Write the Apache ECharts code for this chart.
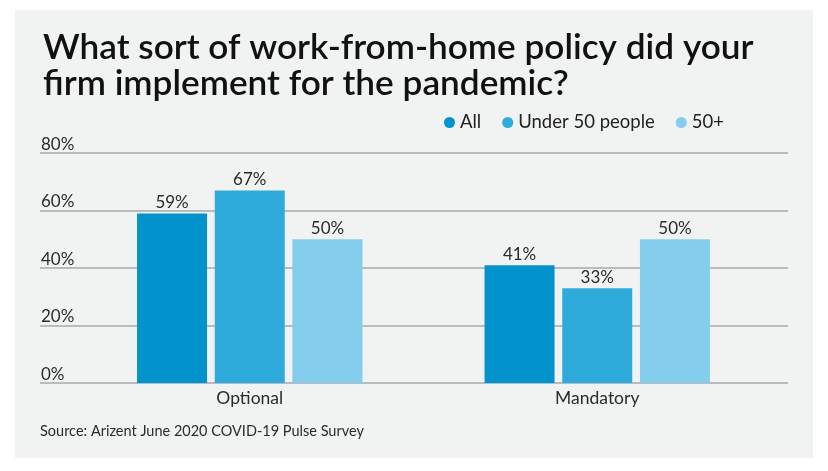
<!DOCTYPE html>
<html>
<head>
<meta charset="utf-8">
<script src="https://cdn.jsdelivr.net/npm/echarts@6/dist/echarts.min.js"></script>
<style>
html,body{margin:0;padding:0;background:#ffffff;}
#chart{width:828px;height:471px;}
</style>
</head>
<body>
<div id="chart"></div>
<script>
var categories = ['Optional', 'Mandatory'];
var seriesNames = ['All', 'Under 50 people', '50+'];
var valuesAll = [59, 41];
var valuesUnder50 = [67, 33];
var values50Plus = [50, 50];
var yTicks = [0, 20, 40, 60, 80];

var colors = ['#0293CC', '#2EABDB', '#84CDEC'];
var FONT = 'Lato, "Noto Sans", sans-serif';
var chart = echarts.init(document.getElementById('chart'), null, {renderer: 'canvas'});

function barSeries(name, data, color) {
  return {
    name: name, type: 'bar', data: data,
    xAxisIndex: 1, yAxisIndex: 1,
    barWidth: 70, barGap: '11%',
    itemStyle: {color: color},
    label: {show: true, position: 'top', distance: 2, formatter: '{c}%',
      fontFamily: FONT, fontSize: 17, color: '#2b2b2b'}
  };
}

chart.setOption({
  backgroundColor: '#ffffff',
  color: colors,
  animation: false,
  title: {
    text: 'What sort of work-from-home policy did your\nfirm implement for the pandemic?',
    left: 38, top: 25,
    textStyle: {fontFamily: FONT, fontSize: 35.2, fontWeight: 600, lineHeight: 36, color: '#111111'}
  },
  legend: {
    data: seriesNames, left: 439, top: 108, icon: 'circle',
    itemWidth: 11, itemHeight: 11, itemGap: 21,
    textStyle: {fontFamily: FONT, fontSize: 18.5, color: '#222222'}
  },
  grid: [
    {left: 40, right: 40, top: 153, bottom: 88},
    {left: 76, right: 57, top: 153, bottom: 88}
  ],
  xAxis: [
    {gridIndex: 0, type: 'category', data: categories, show: false},
    {gridIndex: 1, type: 'category', data: categories,
      axisLine: {show: false}, axisTick: {show: false},
      axisLabel: {fontFamily: FONT, fontSize: 17.5, color: '#2b2b2b', margin: 6}}
  ],
  yAxis: [
    {gridIndex: 0, type: 'value', min: yTicks[0], max: yTicks[yTicks.length - 1], interval: 20,
      axisLine: {show: false}, axisTick: {show: false},
      splitLine: {show: true, lineStyle: {color: '#A7A9AC', width: 1.5}},
      axisLabel: {inside: true, margin: 1, verticalAlign: 'bottom', padding: [0, 0, 0, 0],
        fontFamily: FONT, fontSize: 17, color: '#2b2b2b', formatter: '{value}%'}},
    {gridIndex: 1, type: 'value', min: yTicks[0], max: yTicks[yTicks.length - 1], interval: 20, show: false,
      splitLine: {show: false}}
  ],
  series: [
    barSeries(seriesNames[0], valuesAll, colors[0]),
    barSeries(seriesNames[1], valuesUnder50, colors[1]),
    barSeries(seriesNames[2], values50Plus, colors[2])
  ],
  graphic: [
    {type: 'rect', z: -10, silent: true, shape: {x: 15, y: 10, width: 798, height: 448}, style: {fill: '#F1F2F2'}},
    {type: 'text', left: 40, top: 424, silent: true,
      style: {text: 'Source: Arizent June 2020 COVID-19 Pulse Survey', fontFamily: FONT, fontSize: 14.5, fill: '#2b2b2b'}}
  ]
});
</script>
</body>
</html>
